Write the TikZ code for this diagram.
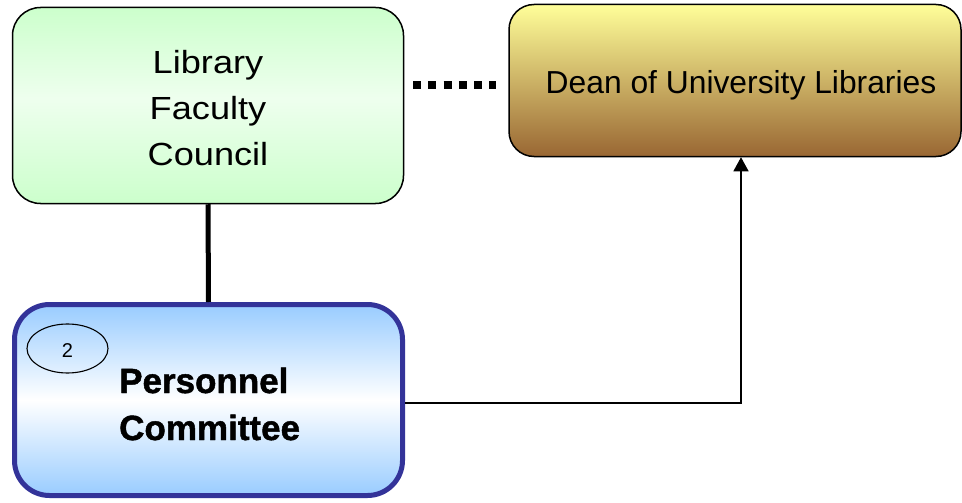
\documentclass[tikz,border=0pt]{standalone}
\usepackage{fontspec}
\setmainfont{Liberation Sans}
\newfontfamily\widesans[FakeStretch=1.13]{Liberation Sans}
\newfontfamily\heavysans[FakeBold=1.3]{Liberation Sans Bold}
\usetikzlibrary{shapes.geometric,arrows.meta}

\definecolor{greenlight}{HTML}{CCFFCC}
\definecolor{greenpale}{HTML}{EEFFEE}
\definecolor{bluelight}{HTML}{99CCFF}
\definecolor{blueedge}{HTML}{333399}
\definecolor{deantop}{HTML}{FFFF99}
\definecolor{deanbottom}{HTML}{996633}

% vertical fades: the path's bounding box maps onto 25bp..75bp
\pgfdeclareverticalshading{greenfade}{100bp}{%
  color(0bp)=(greenlight); color(25bp)=(greenlight);
  color(52bp)=(greenpale); color(75bp)=(greenlight); color(100bp)=(greenlight)}
\pgfdeclareverticalshading{bluefade}{100bp}{%
  color(0bp)=(bluelight); color(25bp)=(bluelight);
  color(50bp)=(white); color(75bp)=(bluelight); color(100bp)=(bluelight)}
\pgfdeclareverticalshading{deanfade}{100bp}{%
  color(0bp)=(deanbottom); color(25bp)=(deanbottom);
  color(75bp)=(deantop); color(100bp)=(deantop)}

\tikzset{
  orgbox/.style={rectangle, draw=black, line width=1.5pt, inner sep=0pt},
  councilbox/.style={orgbox, rounded corners=28pt, shading=greenfade,
    minimum width=391pt, minimum height=196pt,
    align=center, font=\widesans\fontsize{32}{46}\selectfont},
  deanbox/.style={orgbox, rounded corners=25pt, shading=deanfade,
    minimum width=452pt, minimum height=152pt,
    text height=27pt, text depth=0pt, font=\fontsize{31.8}{37}\selectfont},
  committeebox/.style={orgbox, draw=blueedge, line width=5pt, rounded corners=35pt,
    shading=bluefade, minimum width=388pt, minimum height=191pt},
  committeetext/.style={inner sep=0pt, align=left,
    font=\heavysans\fontsize{35}{47}\selectfont},
  badge/.style={ellipse, draw=black, line width=1.1pt, inner sep=0pt,
    minimum width=81pt, minimum height=49pt,
    text height=18pt, text depth=0pt, font=\fontsize{20}{22}\selectfont},
  solidlink/.style={draw=black, line width=5pt},
  dottedlink/.style={draw=black, line width=7.5pt, dash pattern=on 8pt off 7.2pt},
  reportlink/.style={draw=black, line width=1.3pt, -{Triangle[length=14pt, width=15pt]}}
}

\begin{document}
\begin{tikzpicture}[x=1pt, y=-1pt]
\useasboundingbox (0,0) rectangle (962,503);

% boxes
\node[councilbox] (council) at (208,105.5)
  {\rule{0pt}{29pt}Library\\Faculty\\ Council};
\node[deanbox] (dean) at (735,80.5) {\hspace*{12pt}Dean of University Libraries};
\node[committeebox] (committee) at (208.5,400) {};
\node[committeetext, anchor=west] (committeelabel) at (119,404)
  {Personnel\\Committee};
\node[badge] (badge) at (67.5,348.5) {2};

% helper points for the connectors
\coordinate (dotrow) at (0,85);
\coordinate (turn) at (741,403);

% connectors
\draw[solidlink] (council.south) -- (committee.north);
\draw[dottedlink, shorten <=9pt, shorten >=12pt]
  (council.east |- dotrow) -- (dean.west |- dotrow);
\draw[reportlink] (committee.east |- turn) -- (turn) -- (turn |- dean.south);
\end{tikzpicture}
\end{document}
